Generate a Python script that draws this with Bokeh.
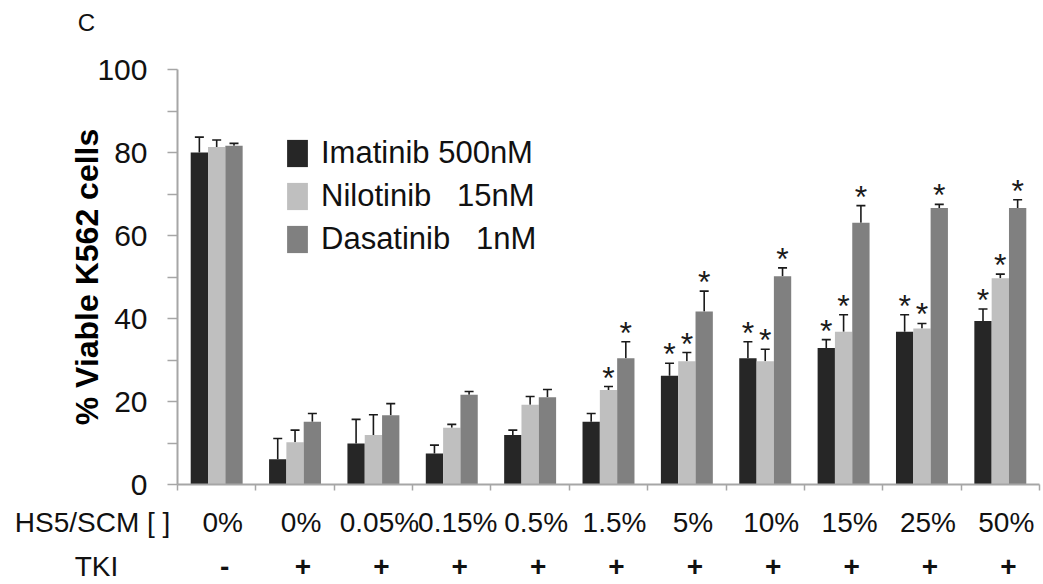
from bokeh.plotting import figure
from bokeh.layouts import column
from bokeh.models import (Range1d, FixedTicker, ColumnDataSource, Whisker, TeeHead,
                          Legend, LegendItem)
from bokeh.core.properties import value
from bokeh.embed import file_html
from bokeh.resources import INLINE

# ---------------- data ----------------
conc_labels = ["0%", "0%", "0.05%", "0.15%", "0.5%", "1.5%", "5%", "10%", "15%", "25%", "50%"]
tki_labels = ["-", "+", "+", "+", "+", "+", "+", "+", "+", "+", "+"]
row_headers = ["HS5/SCM [  ]", "TKI"]
panel_letter = "C"
series_names = ["Imatinib 500nM", "Nilotinib   15nM", "Dasatinib   1nM"]

imatinib = [80.0, 6.1, 9.9, 7.5, 11.9, 15.1, 26.2, 30.4, 32.9, 36.8, 39.4]
imatinib_sd = [3.7, 5.0, 5.8, 2.0, 1.2, 2.0, 3.0, 4.0, 2.0, 4.1, 2.9]
nilotinib = [81.3, 10.2, 11.9, 13.7, 19.2, 22.8, 29.7, 29.7, 36.8, 37.6, 49.7]
nilotinib_sd = [1.7, 2.9, 4.9, 0.8, 2.0, 0.8, 2.1, 2.9, 4.1, 1.2, 1.0]
dasatinib = [81.6, 15.1, 16.7, 21.6, 21.0, 30.4, 41.7, 50.2, 63.1, 66.6, 66.6]
dasatinib_sd = [0.6, 2.0, 2.8, 0.8, 1.9, 4.0, 4.9, 2.0, 4.1, 0.9, 2.0]
imatinib_sig = [0, 0, 0, 0, 0, 0, 1, 1, 1, 1, 1]
nilotinib_sig = [0, 0, 0, 0, 0, 1, 1, 1, 1, 1, 1]
dasatinib_sig = [0, 0, 0, 0, 0, 1, 1, 1, 1, 1, 1]

colors = ["#262626", "#bfbfbf", "#808080"]
FONT = "Liberation Sans"
AXIS_GRAY = "#a6a6a6"
TEXT = "#111111"

n = len(conc_labels)
LEFT, RIGHT, W = 177, 4, 1043
frame_w = W - LEFT - RIGHT
cat_w = frame_w / n
wide_x = Range1d(-LEFT / cat_w, (W - LEFT) / cat_w)   # category scale over full width


def strip_fig(height):
    f = figure(width=W, height=height, x_range=wide_x, y_range=Range1d(height, 0),
               output_backend="svg", toolbar_location=None,
               x_axis_location=None, y_axis_location=None,
               min_border_left=0, min_border_right=0, min_border_top=0, min_border_bottom=0)
    f.title = None
    f.frame_align = False
    f.outline_line_color = None
    f.xgrid.visible = False
    f.ygrid.visible = False
    return f


# ---------------- top strip: panel letter ----------------
TOP_H = 40
p0 = strip_fig(TOP_H)
p0.text(x=[-(LEFT - 86) / cat_w], y=[21.5], text=[panel_letter], text_align="center",
        text_baseline="middle", text_font=value(FONT), text_font_size="24px",
        text_color=TEXT)

# ---------------- main chart ----------------
MAIN_H = 460
p = figure(width=W, height=MAIN_H, x_range=Range1d(0, n), y_range=Range1d(0, 100),
           output_backend="svg", toolbar_location=None,
           min_border_left=LEFT, min_border_right=RIGHT, min_border_top=69 - TOP_H,
           min_border_bottom=16)
p.title = None
p.frame_align = False
p.outline_line_color = None
p.xgrid.visible = False
p.ygrid.visible = False

bar_w = 0.221
offsets = [-bar_w, 0.0, bar_w]
all_vals = [imatinib, nilotinib, dasatinib]
all_sd = [imatinib_sd, nilotinib_sd, dasatinib_sd]
all_sig = [imatinib_sig, nilotinib_sig, dasatinib_sig]

legend_items = []
for k in range(3):
    xs = [i + 0.5 + offsets[k] for i in range(n)]
    vals = all_vals[k]
    tops = [v + s for v, s in zip(vals, all_sd[k])]
    src = ColumnDataSource(dict(x=xs, v=vals, top=tops))
    r = p.vbar(x="x", top="v", bottom=0, width=bar_w, source=src,
               fill_color=colors[k], line_color=None)
    legend_items.append(LegendItem(label=series_names[k], renderers=[r]))
    w = Whisker(source=src, base="x", lower="v", upper="top", dimension="height",
                line_color="#1a1a1a", line_width=1.6,
                upper_head=TeeHead(size=9, line_color="#1a1a1a", line_width=1.6),
                lower_head=None)
    p.add_layout(w)
    sx = [x for x, s in zip(xs, all_sig[k]) if s]
    sy = [t for t, s in zip(tops, all_sig[k]) if s]
    p.text(x=sx, y=sy, text=["*"] * len(sx), text_align="center", text_baseline="alphabetic",
           y_offset=-9, text_font=value(FONT), text_font_size="32px", text_color="#1a1a1a")

# y axis
p.yaxis.ticker = FixedTicker(ticks=[0, 20, 40, 60, 80, 100], minor_ticks=[10, 30, 50, 70, 90])
p.yaxis.major_tick_out = 10
p.yaxis.major_tick_in = 0
p.yaxis.minor_tick_out = 10
p.yaxis.minor_tick_in = 0
p.yaxis.major_tick_line_color = AXIS_GRAY
p.yaxis.minor_tick_line_color = AXIS_GRAY
p.yaxis.axis_line_color = AXIS_GRAY
p.yaxis.axis_line_width = 2
p.yaxis.major_tick_line_width = 1.5
p.yaxis.minor_tick_line_width = 1.5
p.yaxis.major_label_text_font = FONT
p.yaxis.major_label_text_font_size = "30px"
p.yaxis.major_label_text_color = TEXT
p.yaxis.major_label_standoff = 20
p.yaxis.axis_label = "% Viable K562 cells"
p.yaxis.axis_label_text_font = FONT
p.yaxis.axis_label_text_font_size = "32px"
p.yaxis.axis_label_text_font_style = "bold"
p.yaxis.axis_label_text_color = "#000000"
p.yaxis.axis_label_standoff = -11

# x axis: ticks at category boundaries only
p.xaxis.ticker = FixedTicker(ticks=[], minor_ticks=list(range(n + 1)))
p.xaxis.major_tick_out = 0
p.xaxis.major_tick_in = 0
p.xaxis.minor_tick_out = 6
p.xaxis.minor_tick_in = 0
p.xaxis.minor_tick_line_color = AXIS_GRAY
p.xaxis.minor_tick_line_width = 1.5
p.xaxis.axis_line_color = AXIS_GRAY
p.xaxis.axis_line_width = 2

# legend
legend = Legend(items=legend_items, location=(107, 227), orientation="vertical",
                glyph_width=26, glyph_height=34, label_height=34, spacing=7,
                padding=0, margin=0, label_standoff=11,
                label_text_font=FONT, label_text_font_size="31px", label_text_color=TEXT,
                border_line_color=None, background_fill_alpha=0)
p.add_layout(legend)

# ---------------- bottom condition rows (same category scale) ----------------
BOT_H = 584 - TOP_H - MAIN_H
p2 = strip_fig(BOT_H)
row_y = [522 - TOP_H - MAIN_H, 566 - TOP_H - MAIN_H]   # row centres, px from strip top
cx = [i + 0.5 for i in range(n)]
p2.text(x=cx, y=[row_y[0]] * n, text=conc_labels, x_offset=6, text_align="center",
        text_baseline="middle", text_font=value(FONT), text_font_size="28px",
        text_color=TEXT)
p2.text(x=cx, y=[row_y[1]] * n, text=tki_labels, x_offset=8, text_align="center",
        text_baseline="middle", text_font=value(FONT), text_font_size="28px",
        text_font_style="bold", text_color=TEXT)
hx = -(LEFT - 96) / cat_w
p2.text(x=[hx, hx], y=row_y, text=row_headers, text_align="center",
        text_baseline="middle", text_font=value(FONT), text_font_size="28px",
        text_color=TEXT)

layout = column(p0, p, p2, spacing=0)
open("out.html", "w").write(file_html(layout, INLINE))
